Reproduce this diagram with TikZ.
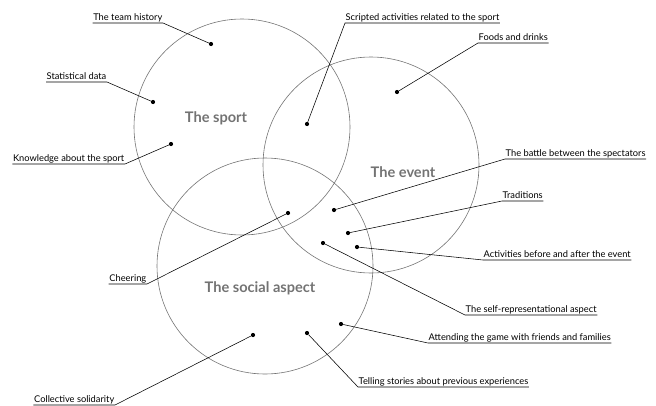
\documentclass[tikz,border=0pt]{standalone}
\usepackage{fontspec}
\setmainfont{Lato}
\begin{document}
\begin{tikzpicture}[x=1pt,y=-1pt,
  ring/.style={draw=black!55, line width=0.6pt},
  title/.style={font=\bfseries\fontsize{14.6}{16}\selectfont, text=black!55},
  lbl/.style={font=\fontsize{9.3}{11}\selectfont, inner sep=0.5pt, text height=6.8pt, text depth=2.3pt},
  lead/.style={draw=black, line width=0.55pt},
  dot/.style={circle, fill=black, inner sep=0pt, minimum size=4.2pt}]
\useasboundingbox (0,0) rectangle (656,405);
\clip (0,0) rectangle (656,405);
\draw[ring] (242,127) circle (108);
\draw[ring] (371,165) circle (108);
\draw[ring] (265,266) circle (108);
\node[title] (tsport) at (216,118) {The sport};
\node[title] (tevent) at (403,172) {The event};
\node[title] (tsocial) at (260,288) {The social aspect};
% dots
\node[dot] (d1) at (211,44) {};
\node[dot] (d2) at (153,102) {};
\node[dot] (d3) at (171,144) {};
\node[dot] (d4) at (307,124) {};
\node[dot] (d5) at (397,92) {};
\node[dot] (d6) at (334,210) {};
\node[dot] (d7) at (348,233) {};
\node[dot] (d8) at (357,247) {};
\node[dot] (d9) at (323,243) {};
\node[dot] (d10) at (341,324) {};
\node[dot] (d11) at (307,333) {};
\node[dot] (d12) at (288,213) {};
\node[dot] (d13) at (253,335) {};
% labels
\node[lbl, anchor=south east] (l1) at (163,23) {The team history};
\node[lbl, anchor=south east] (l2) at (107,82) {Statistical data};
\node[lbl, anchor=south east] (l3) at (125,164) {Knowledge about the sport};
\node[lbl, anchor=south west] (l4) at (345,23) {Scripted activities related to the sport};
\node[lbl, anchor=south west] (l5) at (478,43) {Foods and drinks};
\node[lbl, anchor=south west] (l6) at (505,159) {The battle between the spectators};
\node[lbl, anchor=south west] (l7) at (502,201) {Traditions};
\node[lbl, anchor=south west] (l8) at (483,260) {Activities before and after the event};
\node[lbl, anchor=south west] (l9) at (465,315) {The self-representational aspect};
\node[lbl, anchor=south west] (l10) at (428,343) {Attending the game with friends and families};
\node[lbl, anchor=south west] (l11) at (358,387) {Telling stories about previous experiences};
\node[lbl, anchor=south east] (l12) at (147,284) {Cheering};
\node[lbl, anchor=south east] (l13) at (115,405) {Collective solidarity};
% leaders
\foreach \i in {1,2,3,12,13}
  \draw[lead] (l\i.south west) -- (l\i.south east) -- (d\i);
\foreach \i in {4,5,6,7,8,9,10,11}
  \draw[lead] (l\i.south east) -- (l\i.south west) -- (d\i);
\end{tikzpicture}
\end{document}
